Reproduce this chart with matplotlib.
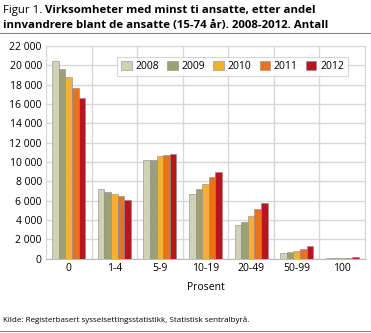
import numpy as np
import matplotlib.pyplot as plt
from matplotlib.patches import Patch

plt.rcParams['font.family'] = ['Open Sans', 'DejaVu Sans']

categories = ['0', '1-4', '5-9', '10-19', '20-49', '50-99', '100']
years = ['2008', '2009', '2010', '2011', '2012']
colors = ['#d0d1b5', '#9ca173', '#f3b12d', '#e8731e', '#b81520']

v2008 = [20500, 7200, 10200, 6650, 3450, 560, 30]
v2009 = [19600, 6870, 10200, 7180, 3800, 660, 30]
v2010 = [18750, 6650, 10600, 7720, 4380, 800, 40]
v2011 = [17700, 6450, 10700, 8450, 5170, 1000, 40]
v2012 = [16600, 6100, 10800, 9000, 5760, 1280, 130]
series = [v2008, v2009, v2010, v2011, v2012]

fig = plt.figure(figsize=(3.71, 3.33), dpi=100)
ax = fig.add_axes([46/371, 1 - 258.7/333, 319/371, (258.7-46)/333])

x = np.arange(len(categories))
w = 0.145
for i, (vals, c) in enumerate(zip(series, colors)):
    ax.bar(x + (i - 2) * w, vals, w, color=c, edgecolor='#8a8a8a', linewidth=0.4, zorder=3)

ax.set_xlim(-0.5, len(categories) - 0.5)
ax.set_ylim(0, 22000)
yt = np.arange(0, 22001, 2000)
ax.set_yticks(yt)
ax.set_yticklabels([f'{v:,}'.replace(',', ' ') for v in yt], fontsize=7.5)
ax.set_xticks(x)
ax.set_xticklabels(categories, fontsize=7.5)
ax.set_xticks(np.arange(-0.5, len(categories)), minor=True)
ax.tick_params(length=0, which='both', pad=3)
ax.grid(True, axis='y', color='#d8d8d8', linewidth=1, zorder=0)
ax.grid(True, axis='x', which='minor', color='#d8d8d8', linewidth=1, zorder=0)
for s in ax.spines.values():
    s.set_color('#d8d8d8')
ax.spines['left'].set_visible(False)
ax.spines['bottom'].set_color('#bbbbbb')
ax.set_xlabel('Prosent', fontsize=7.5, labelpad=6)

handles = [Patch(facecolor=c, edgecolor='#8a8a8a', linewidth=0.4) for c in colors]
leg = ax.legend(handles, years, ncol=5, loc='upper center', bbox_to_anchor=(0.585, 0.975),
                fontsize=7.5, frameon=True, fancybox=False, handlelength=1.0, handleheight=1.0,
                handletextpad=0.35, columnspacing=0.8, borderpad=0.4, edgecolor='#cccccc')
leg.get_frame().set_linewidth(0.8)

# title: "Figur 1." normal, rest bold
t1 = fig.text(0.008, 0.985, 'Figur 1. ', fontsize=8.2, va='top', ha='left')
ax.annotate('Virksomheter med minst ti ansatte, etter andel', xy=(1, 1), xycoords=t1,
            va='top', ha='left', fontsize=8.2, fontweight='bold', annotation_clip=False)
fig.text(0.008, 0.94, 'innvandrere blant de ansatte (15-74 år). 2008-2012. Antall', fontsize=8.2,
         va='top', ha='left', fontweight='bold')
fig.add_artist(plt.Line2D([0, 1], [1 - 33/333, 1 - 33/333], color='#888888', linewidth=0.8))
fig.text(0.008, 1 - 320/333, 'Kilde: Registerbasert sysselsettingsstatistikk, Statistisk sentralbyrå.',
         fontsize=5.8, va='center', ha='left')
fig.add_artist(plt.Line2D([0, 1], [1 - 331/333, 1 - 331/333], color='#888888', linewidth=0.8))

fig.savefig('out.png', dpi=100)
